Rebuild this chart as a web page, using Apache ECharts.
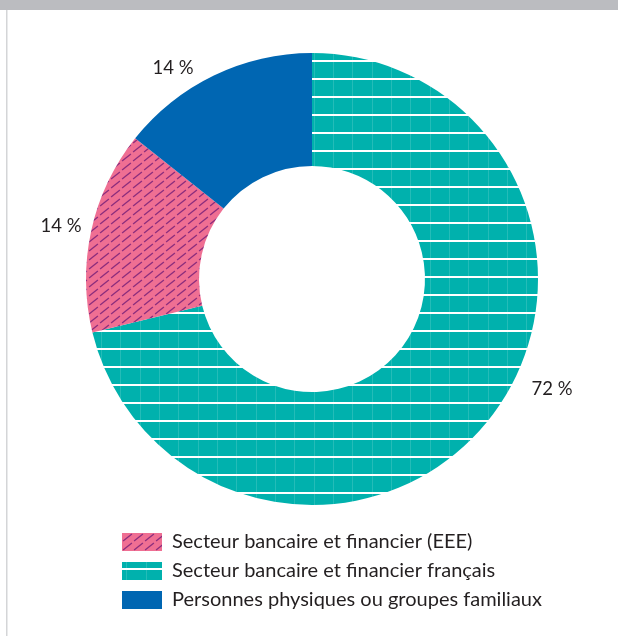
<!DOCTYPE html>
<html>
<head>
<meta charset="utf-8">
<script src="https://cdn.jsdelivr.net/npm/echarts@6/dist/echarts.min.js"></script>
<style>
html,body{margin:0;padding:0;background:#fff;}
#chart{width:618px;height:636px;}
</style>
</head>
<body>
<div id="chart"></div>
<script>
// ---- data ----
const categories = [
  'Secteur bancaire et financier français',
  'Secteur bancaire et financier (EEE)',
  'Personnes physiques ou groupes familiaux'
];
const shares = [71.2, 14.5, 14.3];
const labelTexts = ['72 %', '14 %', '14 %'];
const legendOrder = [categories[1], categories[0], categories[2]];

// ---- styles ----
const TEAL = '#00B1AD';
const PINK = '#EF6F93';
const BLUE = '#0066B2';
const DASH = '#8B2D7D';
const FONT = 'Lato, "Open Sans", sans-serif';
const TEXT = '#231F20';

function tealPattern() {
  const c = document.createElement('canvas');
  c.width = 58; c.height = 18;
  const g = c.getContext('2d');
  g.fillStyle = TEAL; g.fillRect(0, 0, 58, 18);
  g.fillStyle = 'rgba(255,255,255,0.14)';
  [4, 24, 43].forEach(x => g.fillRect(x, 0, 1, 18));
  g.fillStyle = '#ffffff';
  g.fillRect(0, 6, 58, 2);
  return c;
}
function pinkPattern() {
  const w = 11, h = 9;
  const c = document.createElement('canvas');
  c.width = w; c.height = h;
  const g = c.getContext('2d');
  g.fillStyle = PINK; g.fillRect(0, 0, w, h);
  g.strokeStyle = DASH; g.lineWidth = 1.3; g.lineCap = 'butt';
  g.beginPath();
  g.moveTo(w * 0.1, h * 0.9);
  g.lineTo(w * 0.9, h * 0.1);
  g.stroke();
  return c;
}
const fills = [
  { image: tealPattern(), repeat: 'repeat' },
  { image: pinkPattern(), repeat: 'repeat' },
  BLUE
];
const labelPos = [[552, 389], [61, 226], [173, 68]];

const chart = echarts.init(document.getElementById('chart'), null, { renderer: 'canvas' });
chart.setOption({
  animation: false,
  backgroundColor: '#ffffff',
  graphic: [
    { type: 'rect', shape: { x: 0, y: 0, width: 618, height: 10 }, style: { fill: '#BBBCC0' }, silent: true },
    { type: 'rect', shape: { x: 6, y: 10, width: 1.5, height: 626 }, style: { fill: '#D4D5D7' }, silent: true }
  ],
  legend: {
    orient: 'vertical',
    left: 122,
    top: 532,
    padding: 0,
    itemWidth: 40,
    itemHeight: 18,
    itemGap: 9,
    icon: 'rect',
    selectedMode: false,
    data: legendOrder,
    textStyle: { fontFamily: FONT, fontSize: 20, color: TEXT, padding: [0, 0, 0, 5] }
  },
  series: [{
    type: 'pie',
    center: [312, 279],
    radius: [113, 226],
    startAngle: 90,
    clockwise: true,
    silent: true,
    label: {
      show: true,
      position: 'inside',
      fontFamily: FONT,
      fontSize: 18.5,
      color: TEXT,
      overflow: 'none',
      formatter: p => labelTexts[p.dataIndex]
    },
    labelLine: { show: false },
    labelLayout: p => ({ x: labelPos[p.dataIndex][0], y: labelPos[p.dataIndex][1], align: 'center', verticalAlign: 'middle' }),
    data: categories.map((name, i) => ({ name, value: shares[i], itemStyle: { color: fills[i] } }))
  }]
});
</script>
</body>
</html>
